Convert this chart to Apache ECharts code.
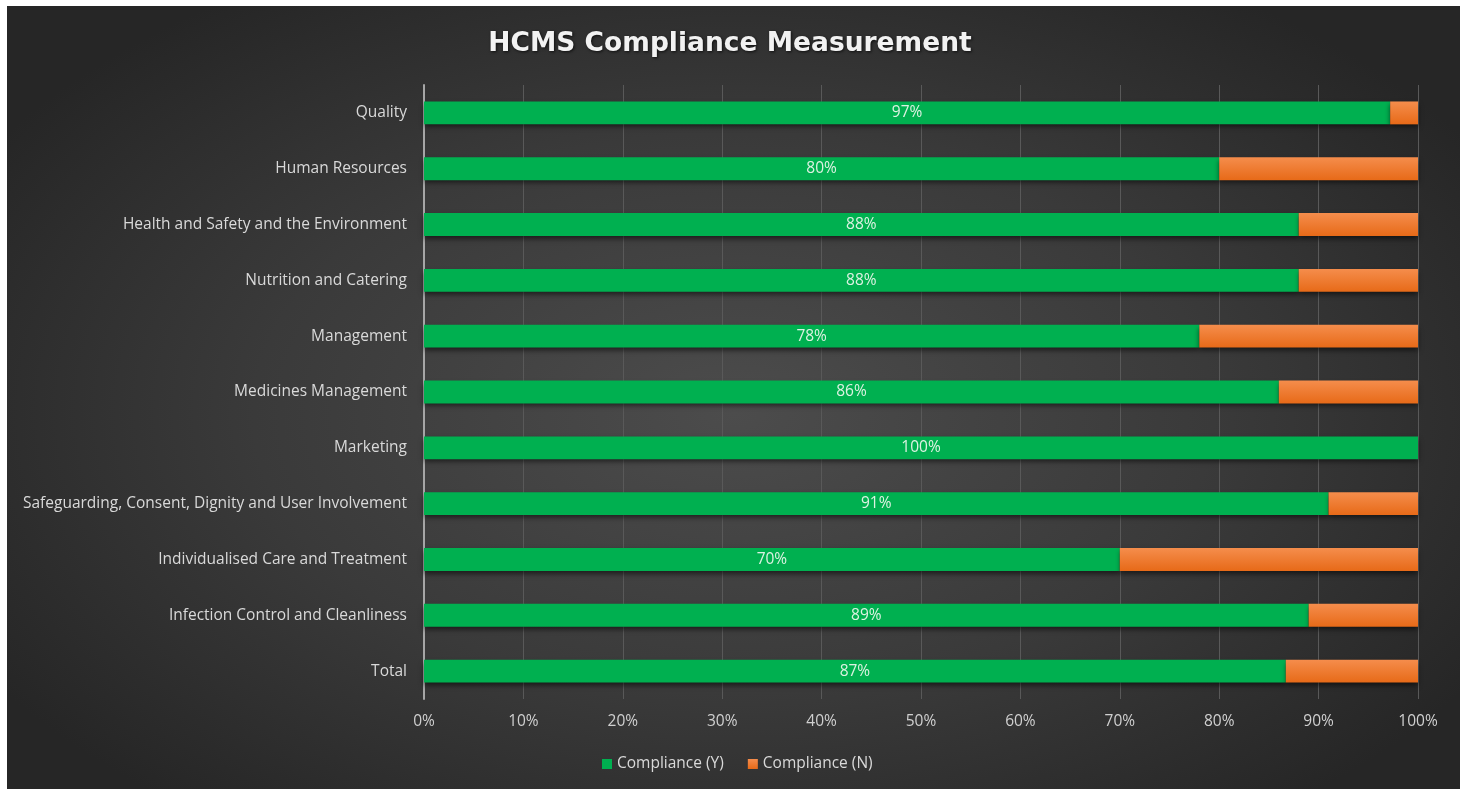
<!DOCTYPE html>
<html>
<head>
<meta charset="utf-8">
<script src="https://cdn.jsdelivr.net/npm/echarts@6/dist/echarts.min.js"></script>
<style>
html,body{margin:0;padding:0;background:#ffffff;}
#bg{position:absolute;left:7px;top:6px;width:1453px;height:783px;
background:radial-gradient(ellipse 60% 65% at 50% 52%, #4c4c4c 0%, #3a3a3a 55%, #262626 100%);}
#chart{position:absolute;left:0;top:0;width:1460px;height:789px;}
</style>
</head>
<body>
<div id="bg"></div>
<div id="chart"></div>
<script>
const categories = [
  "Quality",
  "Human Resources",
  "Health and Safety and the Environment",
  "Nutrition and Catering",
  "Management",
  "Medicines Management",
  "Marketing",
  "Safeguarding, Consent, Dignity and User Involvement",
  "Individualised Care and Treatment",
  "Infection Control and Cleanliness",
  "Total"
];
const complianceY = [97.2, 80, 88, 88, 78, 86, 100, 91, 70, 89, 86.7];
const complianceN = [2.8, 20, 12, 12, 22, 14, 0, 9, 30, 11, 13.3];
const xTicks = [0, 10, 20, 30, 40, 50, 60, 70, 80, 90, 100];

const font = "'Open Sans', 'Noto Sans', sans-serif";
const chart = echarts.init(document.getElementById('chart'), null, {renderer: 'canvas'});
const barShadow = {shadowColor: 'rgba(0,0,0,0.55)', shadowBlur: 5, shadowOffsetY: 3};
chart.setOption({
  backgroundColor: 'transparent',
  animation: false,
  title: {
    text: 'HCMS Compliance Measurement',
    left: 'center',
    top: 26,
    textStyle: {
      fontFamily: "'DejaVu Sans', sans-serif", fontWeight: 'bold', fontSize: 26.5, color: '#f2f2f2',
      textShadowColor: 'rgba(0,0,0,0.7)', textShadowBlur: 3, textShadowOffsetX: 1, textShadowOffsetY: 1
    }
  },
  legend: {
    bottom: 12,
    left: 597,
    itemWidth: 10, itemHeight: 10, itemGap: 24,
    icon: 'rect',
    textStyle: {fontFamily: font, fontSize: 15.5, color: '#d9d9d9'},
    data: ['Compliance (Y)', 'Compliance (N)']
  },
  grid: {left: 424, right: 42, top: 85, bottom: 90, containLabel: false},
  xAxis: {
    type: 'value', min: xTicks[0], max: xTicks[xTicks.length - 1], interval: 10,
    axisLine: {show: false}, axisTick: {show: false},
    splitLine: {lineStyle: {color: '#595959', width: 1}},
    axisLabel: {formatter: v => v + '%', color: '#d0d0d0', fontFamily: font, fontSize: 15.5, margin: 15}
  },
  yAxis: {
    type: 'category', data: categories, inverse: true,
    axisLine: {lineStyle: {color: '#a6a6a6', width: 2}},
    axisTick: {show: false},
    axisLabel: {color: '#d9d9d9', fontFamily: font, fontSize: 15.5, margin: 17}
  },
  series: [
    {
      name: 'Compliance (Y)', type: 'bar', stack: 'c', data: complianceY,
      barCategoryGap: '59%',
      itemStyle: Object.assign({color: '#00b050'}, barShadow),
      label: {
        show: true, position: 'inside', formatter: p => Math.round(p.value) + '%',
        color: '#dcf2e2', fontFamily: font, fontSize: 15.5
      }
    },
    {
      name: 'Compliance (N)', type: 'bar', stack: 'c', data: complianceN,
      barCategoryGap: '59%',
      itemStyle: Object.assign({
        color: new echarts.graphic.LinearGradient(0, 0, 0, 1, [
          {offset: 0, color: '#f58d4c'}, {offset: 1, color: '#e76a18'}
        ])
      }, barShadow)
    }
  ]
});
</script>
</body>
</html>
